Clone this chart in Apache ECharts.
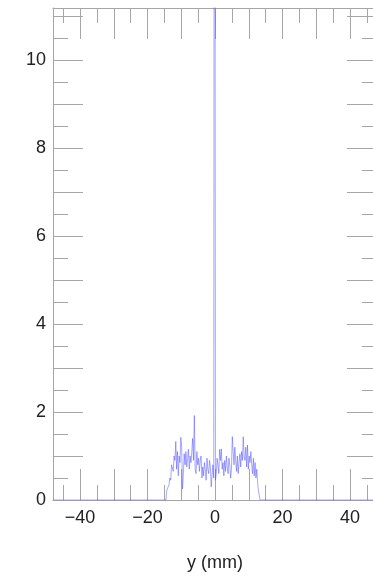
<!DOCTYPE html>
<html><head><meta charset="utf-8">
<script src="https://cdn.jsdelivr.net/npm/echarts@6/dist/echarts.min.js"></script>
<style>html,body{margin:0;padding:0;background:#fff}#c{width:373px;height:578px}</style>
</head><body><div id="c"></div>
<script>
// histogram bins (centers start at binStart, spaced binWidth)
const binStart = -14.5;
const binWidth = 0.25;
const counts = [
  0.0, 0.2, 0.25, 0.3,
  0.35, 0.5, 0.45, 0.8,
  0.8, 0.65, 1.0, 0.9,
  1.33, 0.7, 1.1, 0.55,
  1.0, 0.85, 1.42, 1.2,
  0.25, 0.6, 1.05, 0.8,
  1.1, 0.75, 0.95, 1.15,
  0.7, 1.0, 0.85, 1.1,
  1.4, 0.9, 1.92, 0.7,
  0.6, 1.1, 0.8, 0.95,
  0.65, 0.9, 1.0, 0.5,
  0.75, 0.55, 0.85, 0.7,
  0.45, 0.95, 0.7, 0.6,
  0.9, 0.75, 0.3, 0.55,
  0.8, 0.5,
  30,
  0.45, 0.6, 0.95,
  0.8, 0.6, 1.15, 0.9,
  1.16, 0.7, 0.85, 0.55,
  0.9, 0.65, 1.0, 0.75,
  0.6, 0.95, 0.8, 0.5,
  0.7, 1.44, 1.1, 0.8,
  1.2, 0.9, 0.65, 1.0,
  0.6, 0.85, 1.05, 0.75,
  1.1, 0.9, 1.44, 1.0,
  0.9, 1.2, 0.75, 1.25,
  0.7, 1.0, 0.85, 1.1,
  0.8, 0.6, 0.95, 0.55,
  0.85, 0.5, 0.7, 0.4,
  0.2, 0.1, 0.0
];
const xRange = [-48, 48];
const yRange = [0, 11.18];
const xMajorTicks = [-40, -30, -20, -10, 0, 10, 20, 30, 40];
const xMinorTicks = [-45, -35, -25, -15, -5, 5, 15, 25, 35, 45];
const xLabels = [-40, -20, 0, 20, 40];
const yMajorTicks = [0, 1, 2, 3, 4, 5, 6, 7, 8, 9, 10, 11];
const yMinorTicks = [0.5, 1.5, 2.5, 3.5, 4.5, 5.5, 6.5, 7.5, 8.5, 9.5, 10.5];
const yLabels = [0, 2, 4, 6, 8, 10];
const xTitle = 'y (mm)';

const points = [[xRange[0], 0]];
counts.forEach((v, i) => points.push([binStart + i * binWidth, v]));
points.push([xRange[1], 0]);

const tickColor = '#a6a6a6';
const font = 'Liberation Sans, Arial, Helvetica, sans-serif';
const fmt = v => String(v).replace('-', '\u2212');

function xAx(grid, pos, ticks, len, labels, withLine) {
  const a = {
    type: 'value', gridIndex: grid, position: pos, min: xRange[0], max: xRange[1],
    splitLine: {show: false},
    axisLine: {show: withLine, onZero: false, lineStyle: {color: tickColor, width: 1}},
    axisTick: {show: true, inside: true, length: len, customValues: ticks, lineStyle: {color: tickColor, width: 1}},
    axisLabel: labels ? {show: true, customValues: labels, fontSize: 18, color: '#222', fontFamily: font, margin: 9, formatter: fmt} : {show: false}
  };
  if (labels) {
    a.name = xTitle; a.nameLocation = 'middle'; a.nameGap = 54;
    a.nameTextStyle = {fontSize: 18, color: '#222', fontFamily: font};
  }
  return a;
}
function yAx(grid, pos, ticks, len, labels, withLine) {
  return {
    type: 'value', gridIndex: grid, position: pos, min: yRange[0], max: yRange[1],
    splitLine: {show: false},
    axisLine: {show: withLine, onZero: false, lineStyle: {color: tickColor, width: 1}},
    axisTick: {show: true, inside: true, length: len, customValues: ticks, lineStyle: {color: tickColor, width: 1}},
    axisLabel: labels ? {show: true, customValues: labels, fontSize: 18, color: '#222', fontFamily: font, margin: 7, formatter: fmt} : {show: false}
  };
}

const g = {left: 53, top: 8, width: 324, height: 492, containLabel: false, outerBoundsMode: 'none'};
const chart = echarts.init(document.getElementById('c'), null, {renderer: 'canvas'});
chart.setOption({
  animation: false,
  backgroundColor: '#fff',
  grid: [Object.assign({}, g), Object.assign({}, g)],
  xAxis: [
    xAx(0, 'bottom', xMajorTicks, 31, xLabels, true),
    xAx(0, 'top', xMajorTicks, 31, null, true),
    xAx(1, 'bottom', xMinorTicks, 15, null, false),
    xAx(1, 'top', xMinorTicks, 15, null, false)
  ],
  yAxis: [
    yAx(0, 'left', yMajorTicks, 30, yLabels, true),
    yAx(0, 'right', yMajorTicks, 30, null, true),
    yAx(1, 'left', yMinorTicks, 15, null, false),
    yAx(1, 'right', yMinorTicks, 15, null, false)
  ],
  series: [{
    type: 'line', xAxisIndex: 0, yAxisIndex: 0, data: points, step: 'middle',
    showSymbol: false, clip: true, silent: true,
    lineStyle: {color: 'rgba(80,80,255,0.5)', width: 1}
  }]
});
</script>
</body></html>
